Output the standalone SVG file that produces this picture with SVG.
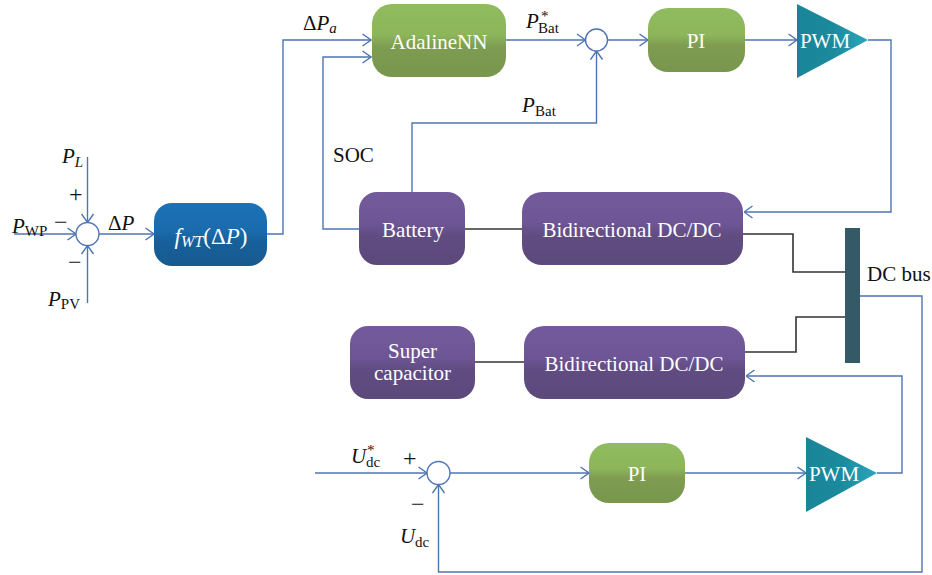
<svg xmlns="http://www.w3.org/2000/svg" width="932" height="575" viewBox="0 0 932 575">
<defs>
<linearGradient id="gGreen" x1="0" y1="0" x2="0" y2="1">
<stop offset="0" stop-color="#90bb5e"/><stop offset="0.42" stop-color="#8db65b"/><stop offset="0.58" stop-color="#7e9d51"/><stop offset="1" stop-color="#78964c"/>
</linearGradient>
<linearGradient id="gPurple" x1="0" y1="0" x2="0" y2="1">
<stop offset="0" stop-color="#735a9c"/><stop offset="0.42" stop-color="#6e5696"/><stop offset="0.6" stop-color="#614c82"/><stop offset="1" stop-color="#5c497b"/>
</linearGradient>
<linearGradient id="gBlue" x1="0" y1="0" x2="0" y2="1">
<stop offset="0" stop-color="#1b72b8"/><stop offset="0.45" stop-color="#1a6bac"/><stop offset="0.6" stop-color="#17609c"/><stop offset="1" stop-color="#175a8e"/>
</linearGradient>
<linearGradient id="gTeal" x1="0" y1="0" x2="1" y2="0">
<stop offset="0" stop-color="#1a8598"/><stop offset="0.5" stop-color="#1b8a9c"/><stop offset="1" stop-color="#2ba6bc"/>
</linearGradient>
<marker id="arr" markerUnits="userSpaceOnUse" viewBox="0 0 10 14" refX="9.5" refY="7" markerWidth="10" markerHeight="14" orient="auto">
<path d="M1,1 L9.5,7 L1,13" fill="none" stroke="#4f74b3" stroke-width="1.4"/>
</marker>
<style>
.bl{fill:none;stroke:#4f74b3;stroke-width:1.4}
.bk{fill:none;stroke:#333;stroke-width:1.6}
.sum{fill:#fff;stroke:#4f74b3;stroke-width:1.4}
.bt{font-family:"Liberation Serif","Times New Roman",serif;font-size:21px;fill:#fff;text-anchor:middle;dominant-baseline:central}
.lb{font-family:"Liberation Serif","Times New Roman",serif;font-size:21px;fill:#111}
.it{font-style:italic}
.sb{font-size:15px}
.sg{font-family:"Liberation Serif","Times New Roman",serif;font-size:24px;fill:#111}
</style>
</defs>
<rect width="932" height="575" fill="#fff"/>
<g id="connectors">
<path class="bl" d="M14,234 H76" marker-end="url(#arr)"/>
<path class="bl" d="M87.5,157 V222.5" marker-end="url(#arr)"/>
<path class="bl" d="M87.5,303 V245.5" marker-end="url(#arr)"/>
<path class="bl" d="M99,234 H154" marker-end="url(#arr)"/>
<path class="bl" d="M267,234 H283 V40 H371" marker-end="url(#arr)"/>
<path class="bl" d="M506,40 H585.5" marker-end="url(#arr)"/>
<path class="bl" d="M607.5,40 H648" marker-end="url(#arr)"/>
<path class="bl" d="M745,40 H797" marker-end="url(#arr)"/>
<path class="bl" d="M868,40 H891 V212 H744" marker-end="url(#arr)"/>
<path class="bl" d="M359,229 H323 V57 H371" marker-end="url(#arr)"/>
<path class="bl" d="M412,192 V123 H596.5 V51" marker-end="url(#arr)"/>
<path class="bk" d="M465,229 H522"/>
<path class="bk" d="M743,234 H793 V272 H845"/>
<path class="bk" d="M845,317 H796 V352 H745"/>
<path class="bk" d="M475,362 H524"/>
<path class="bl" d="M315,473 H427" marker-end="url(#arr)"/>
<path class="bl" d="M450,473 H589" marker-end="url(#arr)"/>
<path class="bl" d="M685,473 H806" marker-end="url(#arr)"/>
<path class="bl" d="M877,473 H902 V376 H746" marker-end="url(#arr)"/>
<path class="bl" d="M860,296 H922 V572 H438.5 V484.5" marker-end="url(#arr)"/>
</g>
<g id="sum1"><circle class="sum" cx="87.5" cy="234" r="11.5"/></g>
<g id="sum2"><circle class="sum" cx="596.5" cy="40" r="11"/></g>
<g id="sum3"><circle class="sum" cx="438.5" cy="473" r="11.5"/></g>
<g id="fwt">
<rect x="154" y="203" width="113" height="63" rx="18" fill="url(#gBlue)"/>
<text x="211" y="236" class="bt" style="font-size:23px"><tspan font-style="italic">f</tspan><tspan font-style="italic" style="font-size:16px" dy="5">WT</tspan><tspan dy="-5">(Δ</tspan><tspan font-style="italic">P</tspan><tspan>)</tspan></text>
</g>
<g id="adaline">
<rect x="372" y="4" width="134" height="73" rx="20" fill="url(#gGreen)"/>
<text x="439" y="42" class="bt">AdalineNN</text>
</g>
<g id="pi1">
<rect x="648" y="8" width="97" height="64" rx="20" fill="url(#gGreen)"/>
<text x="696" y="41" class="bt">PI</text>
</g>
<g id="pwm1">
<polygon points="797,4 868,40 797,78" fill="url(#gTeal)"/>
<text x="825" y="41" class="bt">PWM</text>
</g>
<g id="battery">
<rect x="359" y="192" width="106" height="73" rx="18" fill="url(#gPurple)"/>
<text x="413" y="230" class="bt">Battery</text>
</g>
<g id="bidir1">
<rect x="522" y="192" width="221" height="73" rx="20" fill="url(#gPurple)"/>
<text x="632" y="230" class="bt">Bidirectional DC/DC</text>
</g>
<g id="dcbus">
<rect x="845" y="228" width="15" height="135" fill="#345a68"/>
<text x="867" y="281" class="lb">DC bus</text>
</g>
<g id="supercap">
<rect x="350" y="326" width="125" height="73" rx="18" fill="url(#gPurple)"/>
<text x="412.5" y="351" class="bt">Super</text>
<text x="412.5" y="373" class="bt">capacitor</text>
</g>
<g id="bidir2">
<rect x="524" y="326" width="221" height="73" rx="20" fill="url(#gPurple)"/>
<text x="634" y="364" class="bt">Bidirectional DC/DC</text>
</g>
<g id="pi2">
<rect x="589" y="443" width="96" height="60" rx="20" fill="url(#gGreen)"/>
<text x="637" y="474" class="bt">PI</text>
</g>
<g id="pwm2">
<polygon points="806,437 877,473 806,512" fill="url(#gTeal)"/>
<text x="834" y="474" class="bt">PWM</text>
</g>
<g id="labels">
<text x="62" y="163" class="lb"><tspan class="it">P</tspan><tspan class="it sb" dy="4">L</tspan></text>
<text x="69" y="202" class="sg">+</text>
<text x="12" y="233" class="lb"><tspan class="it">P</tspan><tspan class="sb" dy="3">WP</tspan></text>
<text x="54" y="230" class="sg">−</text>
<text x="68" y="270" class="sg">−</text>
<text x="48" y="306" class="lb"><tspan class="it">P</tspan><tspan class="sb" dy="3">PV</tspan></text>
<text x="108" y="230" class="lb">Δ<tspan class="it">P</tspan></text>
<text x="303" y="30" class="lb">Δ<tspan class="it">P</tspan><tspan class="it sb" dy="3">a</tspan></text>
<text x="526" y="28" class="lb"><tspan class="it">P</tspan><tspan class="sb" x="541" dy="-7">*</tspan><tspan class="sb" x="538" dy="12">Bat</tspan></text>
<text x="522" y="112" class="lb"><tspan class="it">P</tspan><tspan class="sb" x="535" dy="4">Bat</tspan></text>
<text x="333" y="162" class="lb">SOC</text>
<text x="351" y="463" class="lb"><tspan class="it">U</tspan><tspan class="sb" x="367" dy="-8">*</tspan><tspan class="sb" x="366" dy="12">dc</tspan></text>
<text x="403" y="466" class="sg">+</text>
<text x="411" y="512" class="sg">−</text>
<text x="400" y="543" class="lb"><tspan class="it">U</tspan><tspan class="sb" x="415" dy="4">dc</tspan></text>
</g>
</svg>
